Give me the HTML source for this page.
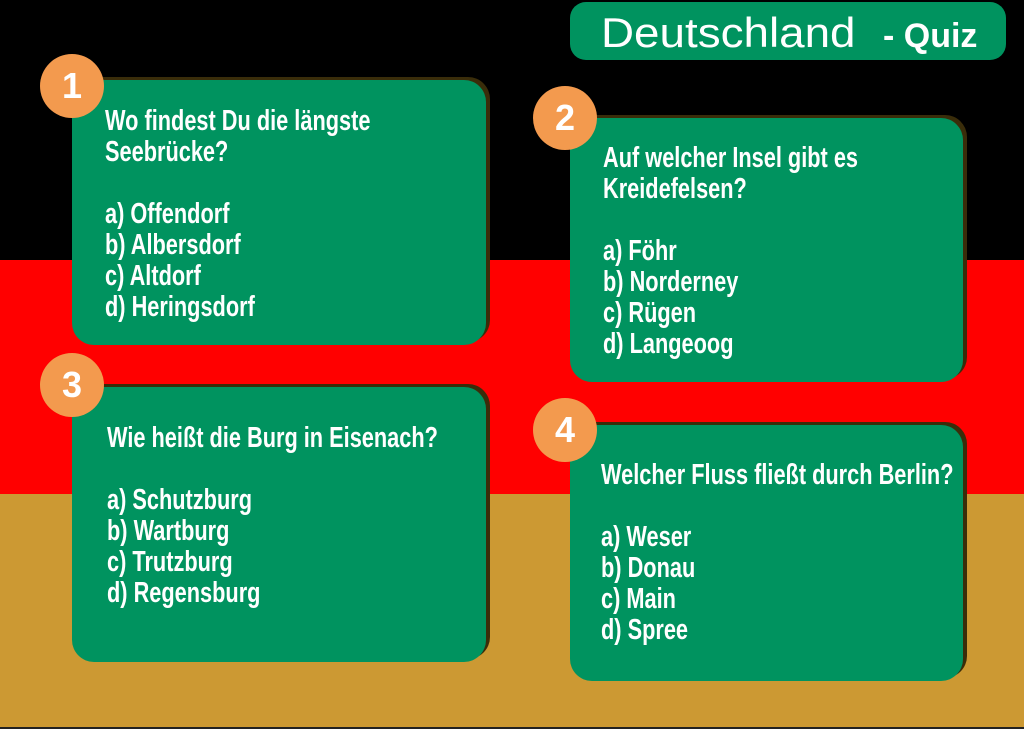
<!DOCTYPE html>
<html><head><meta charset="utf-8"><style>
body{margin:0;width:1024px;height:729px;overflow:hidden;position:relative;background:#000;font-family:"Liberation Sans",sans-serif}
.s{position:absolute;left:0;width:1024px}
.box{position:absolute;background:#00935f;border-radius:22px;box-shadow:4px -3px 0 #3a2d0a}
.c{position:absolute;width:64px;height:64px;border-radius:50%;background:#f39a4e;color:#fff;font:bold 36px "Liberation Sans",sans-serif;text-align:center;line-height:64px}
.t{position:absolute;color:#fff;font-weight:bold;font-size:29px;line-height:31px;white-space:pre;transform:scaleX(0.75);transform-origin:0 0}
</style></head><body>
<div class="s" style="top:0;height:260px;background:#000"></div>
<div class="s" style="top:260px;height:234px;background:#ff0000"></div>
<div class="s" style="top:494px;height:233px;background:#cc9933"></div>
<div class="s" style="top:727px;height:2px;background:#222"></div>

<div class="box" style="left:570px;top:2px;width:436px;height:58px;border-radius:16px;box-shadow:none"></div>
<div style="position:absolute;left:601px;top:8px;color:#fff;font-size:42px;line-height:50px;white-space:nowrap"><span style="display:inline-block;transform:scaleX(1.09);transform-origin:0 0;font-weight:normal;width:282px">Deutschland</span><span style="font-weight:bold;font-size:34px">- Quiz</span></div>

<div class="box" style="left:72px;top:80px;width:414px;height:265px"></div>
<div class="box" style="left:570px;top:118px;width:393px;height:264px"></div>
<div class="box" style="left:72px;top:387px;width:414px;height:275px"></div>
<div class="box" style="left:570px;top:425px;width:393px;height:256px"></div>

<div class="c" style="left:40px;top:54px">1</div>
<div class="c" style="left:533px;top:86px">2</div>
<div class="c" style="left:40px;top:353px">3</div>
<div class="c" style="left:533px;top:398px">4</div>

<div class="t" style="left:105px;top:106px">Wo findest Du die längste
Seebrücke?

a) Offendorf
b) Albersdorf
c) Altdorf
d) Heringsdorf</div>
<div class="t" style="left:603px;top:143px">Auf welcher Insel gibt es
Kreidefelsen?

a) Föhr
b) Norderney
c) Rügen
d) Langeoog</div>
<div class="t" style="left:107px;top:423px">Wie heißt die Burg in Eisenach?

a) Schutzburg
b) Wartburg
c) Trutzburg
d) Regensburg</div>
<div class="t" style="left:601px;top:460px">Welcher Fluss fließt durch Berlin?

a) Weser
b) Donau
c) Main
d) Spree</div>
</body></html>
